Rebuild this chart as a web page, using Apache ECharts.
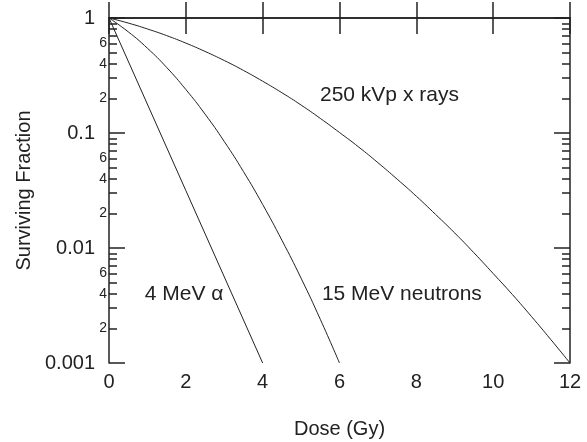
<!DOCTYPE html>
<html>
<head>
<meta charset="utf-8">
<script src="https://cdn.jsdelivr.net/npm/echarts@6/dist/echarts.min.js"></script>
<style>
  html, body { margin: 0; padding: 0; background: #fff; }
  #main { width: 587px; height: 442px; }
</style>
</head>
<body>
<div id="main"></div>
<script>
var myChart = echarts.init(document.getElementById('main'));

// values
var xrayDose = [0, 0.5, 1, 1.5, 2, 2.5, 3, 3.5, 4, 4.5, 5, 5.5, 6,
    6.5, 7, 7.5, 8, 8.5, 9, 9.5, 10, 10.5, 11, 11.5, 12];
var xrayFrac = [1, 0.904, 0.803, 0.703, 0.605, 0.512, 0.427, 0.350, 0.282, 0.224, 0.175, 0.134, 0.101,
    0.0755, 0.0552, 0.0397, 0.0282, 0.0196, 0.0135, 0.00908, 0.0060, 0.00394, 0.00253, 0.0016, 0.001];

var neutronDose = [0, 0.5, 1, 1.5, 2, 2.5, 3, 3.5, 4, 4.5, 5, 5.5, 6];
var neutronFrac = [1, 0.759, 0.546, 0.372, 0.239, 0.146, 0.0844, 0.0462, 0.0239, 0.0117, 0.00546, 0.0024, 0.001];

var alphaDose = [0, 2, 4];
var alphaFrac = [1, 0.0316, 0.001];

var xTicks = [0, 2, 4, 6, 8, 10, 12];
var minorDigits = [2, 3, 4, 5, 6, 7, 8, 9];
var minorLabelDigits = [2, 4, 6];
var decades = [0.001, 0.01, 0.1];

var labels = [
    { text: '250 kVp x rays', coord: [5.44, 0.214] },
    { text: '15 MeV neutrons', coord: [5.49, 0.0040] },
    { text: '4 MeV \u03b1', coord: [0.88, 0.0040] }
];

function pairs(xs, ys) {
    var out = [];
    for (var i = 0; i < xs.length; i++) {
        out.push([xs[i], ys[i]]);
    }
    return out;
}

// exponents of the minor tick values, for the helper axes
function logTicks(digits) {
    var out = [];
    for (var d = 0; d < decades.length; d++) {
        for (var i = 0; i < digits.length; i++) {
            out.push(Math.log10(digits[i] * decades[d]));
        }
    }
    return out;
}

var black = '#222';
var bigFont = 20;

function minorAxis(pos, withLabels) {
    return {
        type: 'value',
        position: pos,
        min: -3,
        max: 0,
        axisLine: { show: false },
        splitLine: { show: false },
        axisTick: {
            show: true,
            inside: true,
            length: 8,
            customValues: logTicks(minorDigits),
            lineStyle: { color: black, width: 1.5 }
        },
        axisLabel: {
            show: withLabels,
            customValues: logTicks(minorLabelDigits),
            margin: 2,
            fontSize: 14,
            color: black,
            fontFamily: 'Liberation Sans',
            formatter: function (v) {
                var e = Math.floor(v + 1e-9);
                return String(Math.round(Math.pow(10, v - e)));
            }
        }
    };
}

function logAxis(pos, withLabels) {
    return {
        type: 'log',
        logBase: 10,
        position: pos,
        min: 0.001,
        max: 1,
        name: withLabels ? 'Surviving Fraction' : '',
        nameLocation: 'middle',
        nameGap: 73,
        nameTextStyle: { fontSize: bigFont, color: black, fontFamily: 'Liberation Sans' },
        axisLine: { show: true, lineStyle: { color: black, width: 1.5 } },
        splitLine: { show: false },
        axisTick: { show: true, inside: true, length: 16, lineStyle: { color: black, width: 1.5 } },
        axisLabel: {
            show: withLabels,
            margin: 14,
            fontSize: bigFont,
            color: black,
            fontFamily: 'Liberation Sans'
        }
    };
}

var series = [
    { name: '250 kVp x rays', data: pairs(xrayDose, xrayFrac), smooth: true },
    { name: '15 MeV neutrons', data: pairs(neutronDose, neutronFrac), smooth: true },
    { name: '4 MeV alpha', data: pairs(alphaDose, alphaFrac), smooth: false }
].map(function (s, i) {
    return {
        name: s.name,
        type: 'line',
        xAxisIndex: 0,
        yAxisIndex: 0,
        data: s.data,
        smooth: s.smooth,
        showSymbol: false,
        symbol: 'none',
        lineStyle: { color: black, width: 1 },
        markPoint: {
            symbol: 'circle',
            symbolSize: 0,
            silent: true,
            data: [{ coord: labels[i].coord, value: labels[i].text }],
            label: {
                show: true,
                position: 'right',
                distance: 0,
                formatter: '{c}',
                fontSize: 21,
                color: black,
                fontFamily: 'Liberation Sans',
                backgroundColor: i === 2 ? '#fff' : 'transparent',
                padding: [0, 2]
            }
        }
    };
});

var option = {
    backgroundColor: '#fff',
    animation: false,
    grid: { left: 109, right: 17, top: 18, bottom: 79, containLabel: false, outerBoundsMode: 'none' },
    xAxis: [
        {
            type: 'value',
            position: 'bottom',
            min: 0,
            max: 12,
            interval: 2,
            name: 'Dose (Gy)',
            nameLocation: 'middle',
            nameGap: 56,
            nameTextStyle: { fontSize: bigFont, color: black, fontFamily: 'Liberation Sans' },
            axisLine: { show: true, lineStyle: { color: black, width: 1.5 } },
            splitLine: { show: false },
            axisTick: { show: true, inside: true, length: 16, lineStyle: { color: black, width: 1.5 } },
            axisLabel: {
                margin: 9,
                fontSize: bigFont,
                color: black,
                fontFamily: 'Liberation Sans',
                customValues: xTicks
            }
        },
        {
            type: 'value',
            position: 'top',
            min: 0,
            max: 12,
            interval: 2,
            axisLine: { show: true, lineStyle: { color: black, width: 1.5 } },
            splitLine: { show: false },
            axisTick: { show: true, inside: true, length: 16, lineStyle: { color: black, width: 1.5 } },
            axisLabel: { show: false }
        }
    ],
    yAxis: [
        logAxis('left', true),
        minorAxis('left', true),
        logAxis('right', false),
        minorAxis('right', false)
    ],
    series: series
};

myChart.setOption(option);

window.onresize = function () {
    if (myChart) {
        myChart.resize();
    }
};
</script>
</body>
</html>
